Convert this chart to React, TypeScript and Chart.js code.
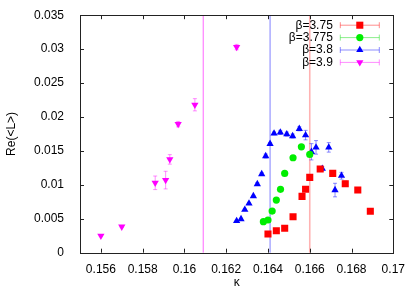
import React, { useEffect, useRef } from "react";
import { Chart, registerables } from "chart.js";
import { drawPoint } from "chart.js/helpers";

Chart.register(...registerables);

// ---- data ----
const kappa375 = [0.1640, 0.1644, 0.1648, 0.1652, 0.16563, 0.1658, 0.1660, 0.1665, 0.1671, 0.1677, 0.1683, 0.1689];
const re375 = [0.00275, 0.00324, 0.00359, 0.0053, 0.0083, 0.00934, 0.0111, 0.01233, 0.01169, 0.01016, 0.00923, 0.0061];
const err375 = [0.0001, 0.0001, 0.0001, 0.0001, 0.0002, 0.0002, 0.0002, 0.0003, 0.0004, 0.0004, 0.0002, 0.0001];

const kappa3775 = [0.16378, 0.1640, 0.1642, 0.1644, 0.1646, 0.1648, 0.1652, 0.1656, 0.1660];
const re3775 = [0.00457, 0.00482, 0.00614, 0.00776, 0.00934, 0.01169, 0.01399, 0.01561, 0.01449];
const err3775 = [0.0001, 0.0001, 0.0001, 0.0001, 0.0001, 0.0002, 0.0002, 0.0002, 0.0002];

const kappa38 = [0.1625, 0.16271, 0.16289, 0.16309, 0.1633, 0.16349, 0.1637, 0.16389, 0.1641, 0.16429, 0.16459, 0.1649, 0.16518, 0.1655, 0.1658, 0.16608, 0.1663, 0.1666, 0.16691, 0.16721, 0.16752];
const re38 = [0.00467, 0.00496, 0.00633, 0.00727, 0.00835, 0.01012, 0.01159, 0.01424, 0.01605, 0.01758, 0.01773, 0.01748, 0.01719, 0.01826, 0.01733, 0.01487, 0.01552, 0.01237, 0.01552, 0.00923, 0.01134];
const err38 = [0.0001, 0.0001, 0.0001, 0.0001, 0.0001, 0.0002, 0.0002, 0.0003, 0.0002, 0.0002, 0.0003, 0.0003, 0.0003, 0.0003, 0.0007, 0.0012, 0.0010, 0.0003, 0.0007, 0.0010, 0.0005];

const kappa39 = [0.156, 0.157, 0.1586, 0.1591, 0.1593, 0.1597, 0.1605, 0.1625];
const re39 = [0.0025, 0.00383, 0.0103, 0.0107, 0.01375, 0.01895, 0.0218, 0.0303];
const err39 = [0.0001, 0.0001, 0.0010, 0.0013, 0.0007, 0.0004, 0.0009, 0.0004];

const seriesLabels = ["β=3.75", "β=3.775", "β=3.8", "β=3.9"];
const criticalKappa = [0.1609, 0.1641, 0.166]; // magenta, blue, red
const xTicks = [0.156, 0.158, 0.16, 0.162, 0.164, 0.166, 0.168, 0.17];
const yTicks = [0, 0.005, 0.01, 0.015, 0.02, 0.025, 0.03, 0.035];

const FONT = '"Liberation Sans", Arial, sans-serif';

const seriesStyles = [
  { color: "#ff0000", err: "rgba(255,0,0,0.45)", style: "rect", radius: 5, rotation: 0 },
  { color: "#00ee00", err: "rgba(0,220,0,0.45)", style: "circle", radius: 3.6, rotation: 0 },
  { color: "#0000ff", err: "rgba(0,0,255,0.45)", style: "triangle", radius: 4.2, rotation: 0 },
  { color: "#ff00ff", err: "rgba(255,0,255,0.45)", style: "triangle", radius: 4.2, rotation: 180 },
];
const vlineColors = ["rgba(255,0,255,0.6)", "rgba(60,60,255,0.65)", "rgba(255,0,0,0.3)"];

const allErrs = [err375, err3775, err38, err39];

const overlay = {
  id: "overlay",
  beforeDatasetsDraw(chart: any) {
    const { ctx, chartArea: a, scales } = chart;
    const xs = scales.x, ys = scales.y;
    ctx.save();
    criticalKappa.forEach((k, i) => {
      const px = xs.getPixelForValue(k);
      ctx.strokeStyle = vlineColors[i];
      ctx.lineWidth = i === 2 ? 1.6 : 1;
      ctx.beginPath();
      ctx.moveTo(px, a.top);
      ctx.lineTo(px, a.bottom);
      ctx.stroke();
    });
    chart.data.datasets.forEach((ds: any, i: number) => {
      const errs = allErrs[i];
      ctx.strokeStyle = seriesStyles[i].err;
      ctx.lineWidth = 1;
      ds.data.forEach((p: any, j: number) => {
        const px = xs.getPixelForValue(p.x);
        const y1 = ys.getPixelForValue(p.y - errs[j]);
        const y2 = ys.getPixelForValue(p.y + errs[j]);
        ctx.beginPath();
        ctx.moveTo(px, y1);
        ctx.lineTo(px, y2);
        ctx.moveTo(px - 2, y1);
        ctx.lineTo(px + 2, y1);
        ctx.moveTo(px - 2, y2);
        ctx.lineTo(px + 2, y2);
        ctx.stroke();
      });
    });
    ctx.restore();
  },
  afterDraw(chart: any) {
    const { ctx, chartArea: a, scales } = chart;
    const xs = scales.x, ys = scales.y;
    ctx.save();
    ctx.strokeStyle = "#222";
    ctx.lineWidth = 1;
    ctx.strokeRect(Math.round(a.left) + 0.5, Math.round(a.top) + 0.5, Math.round(a.right - a.left), Math.round(a.bottom - a.top));
    ctx.beginPath();
    xTicks.forEach((v) => {
      const px = Math.round(xs.getPixelForValue(v)) + 0.5;
      ctx.moveTo(px, a.bottom);
      ctx.lineTo(px, a.bottom - 4);
      ctx.moveTo(px, a.top);
      ctx.lineTo(px, a.top + 4);
    });
    yTicks.forEach((v) => {
      const py = Math.round(ys.getPixelForValue(v)) + 0.5;
      ctx.moveTo(a.left, py);
      ctx.lineTo(a.left + 4, py);
      ctx.moveTo(a.right, py);
      ctx.lineTo(a.right - 4, py);
    });
    ctx.stroke();

    // axis titles
    ctx.fillStyle = "#000";
    ctx.font = `12px ${FONT}`;
    ctx.textAlign = "center";
    ctx.textBaseline = "middle";
    ctx.fillText("κ", (a.left + a.right) / 2, 283);
    ctx.save();
    ctx.translate(12, (a.top + a.bottom) / 2);
    ctx.rotate(-Math.PI / 2);
    ctx.fillText("Re(<L>)", 0, 0);
    ctx.restore();

    // legend
    seriesLabels.forEach((lab, i) => {
      const y = a.top + 10 + i * 12.4;
      const st = seriesStyles[i];
      ctx.fillStyle = "#000";
      ctx.textAlign = "right";
      ctx.textBaseline = "middle";
      ctx.fillText(lab, a.right - 60.5, y);
      const x1 = a.right - 53, x2 = a.right - 14;
      ctx.strokeStyle = st.err;
      ctx.lineWidth = 1;
      ctx.beginPath();
      ctx.moveTo(x1, y);
      ctx.lineTo(x2, y);
      ctx.moveTo(x1, y - 3);
      ctx.lineTo(x1, y + 3);
      ctx.moveTo(x2, y - 3);
      ctx.lineTo(x2, y + 3);
      ctx.stroke();
      ctx.fillStyle = st.color;
      ctx.strokeStyle = st.color;
      drawPoint(ctx, { pointStyle: st.style, radius: st.radius, rotation: st.rotation, borderWidth: 0 } as any, (x1 + x2) / 2, y);
    });
    ctx.restore();
  },
};

export default function App() {
  const ref = useRef<HTMLCanvasElement>(null);
  useEffect(() => {
    document.body.style.margin = "0";
    const mk = (xs: number[], ys: number[]) => xs.map((x, i) => ({ x, y: ys[i] }));
    const sets = [mk(kappa375, re375), mk(kappa3775, re3775), mk(kappa38, re38), mk(kappa39, re39)];
    const chart = new Chart(ref.current!, {
      type: "scatter",
      data: {
        datasets: sets.map((d, i) => ({
          label: seriesLabels[i],
          data: d,
          backgroundColor: seriesStyles[i].color,
          borderColor: seriesStyles[i].color,
          borderWidth: 0,
          pointStyle: seriesStyles[i].style as any,
          pointRadius: seriesStyles[i].radius,
          pointRotation: seriesStyles[i].rotation,
        })),
      },
      options: {
        animation: false,
        responsive: false,
        events: [],
        layout: { padding: { top: 15, right: 21.7, left: 0, bottom: 0 } },
        plugins: { legend: { display: false }, tooltip: { enabled: false } },
        scales: {
          x: {
            type: "linear",
            min: 0.155,
            max: 0.17,
            grid: { display: false },
            border: { display: false },
            afterBuildTicks: (s: any) => { s.ticks = xTicks.map((v) => ({ value: v })); },
            afterFit: (s: any) => { s.height = 38.3; },
            ticks: {
              font: { family: FONT, size: 12 },
              color: "#000",
              padding: 2,
              maxRotation: 0,
              autoSkip: false,
              callback: (v: any) => String(Number(Number(v).toFixed(3))),
            },
          },
          y: {
            type: "linear",
            min: 0,
            max: 0.035,
            grid: { display: false },
            border: { display: false },
            afterBuildTicks: (s: any) => { s.ticks = yTicks.map((v) => ({ value: v })); },
            afterFit: (s: any) => { s.width = 80; },
            ticks: {
              font: { family: FONT, size: 12 },
              color: "#000",
              padding: 8,
              autoSkip: false,
              callback: (v: any) => String(Number(Number(v).toFixed(3))),
            },
          },
        },
      },
      plugins: [overlay],
    });
    return () => chart.destroy();
  }, []);
  return (
    <div style={{ position: "absolute", left: 0, top: 0, width: 415, height: 291 }}>
      <canvas ref={ref} width={415} height={291} style={{ width: 415, height: 291 }} />
    </div>
  );
}
